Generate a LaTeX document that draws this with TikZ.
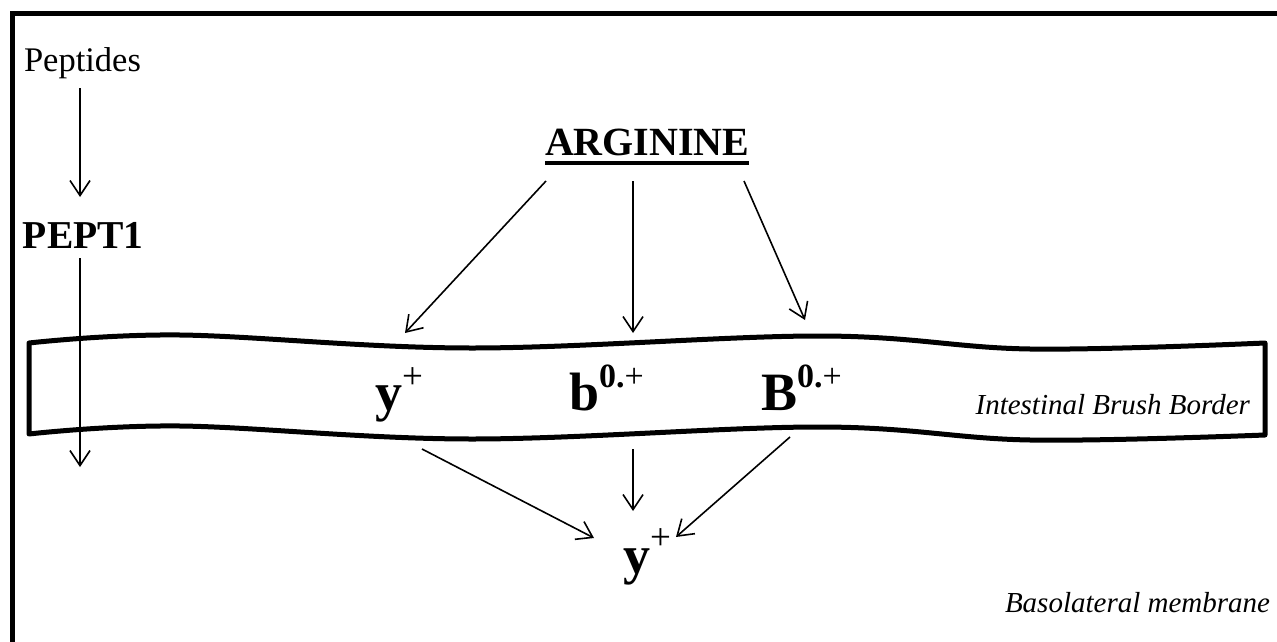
\documentclass[tikz,border=0pt]{standalone}
\usepackage{fontspec}
\setmainfont{Liberation Serif}
\usetikzlibrary{arrows.meta}
\newcommand\fsz[1]{\fontsize{#1}{#1}\selectfont}
\tikzset{
  lbl/.style={inner sep=0pt, outer sep=0pt, anchor=base west},
  lblr/.style={inner sep=0pt, outer sep=0pt, anchor=base east},
  arr/.style={line width=1.6pt, -{Straight Barb[length=15pt,width=20pt,line width=1.6pt]}},
  frame/.style={line width=5pt},
  band/.style={line width=5pt, line join=round},
  ul/.style={line width=4pt}
}
\begin{document}
\begin{tikzpicture}[x=1pt,y=-1pt]
\useasboundingbox (0,0) rectangle (1277,642);
% frame
\draw[frame] (12,642) -- (12,14) -- (1277,14);
% band
\draw[band] (29,343) -- plot[smooth, tension=0.6] coordinates {(29,343) (180,335) (470,348) (820,336) (1030,349) (1265,343)}
  -- (1265,435) -- plot[smooth, tension=0.6] coordinates {(1265,435) (1030,440) (820,427) (470,439) (180,426) (29,434)} -- cycle;
% texts
\node[lbl] (pep) at (24,72) {\fsz{34.5}Peptides};
\node[lbl] (pept) at (23,248) {\fsz{39.5}\bfseries PEPT1};
\node[lbl] (arg) at (545,155) {\fsz{40}\bfseries ARGININE};
\draw[ul] ([yshift=-8pt]arg.base west) -- ([yshift=-8pt]arg.base east);
\node[lbl] (ya) at (375,410) {{\fsz{54}\bfseries y}\raisebox{22pt}{\fsz{37}+}};
\node[lbl] (bb) at (569,410) {{\fsz{54}\bfseries b}\raisebox{23pt}{\fsz{34}\bfseries 0.\mdseries+}};
\node[lbl] (BB) at (761,410) {{\fsz{54}\bfseries B}\raisebox{23pt}{\fsz{34}\bfseries 0.\mdseries+}};
\node[lbl] (yb) at (623,573) {{\fsz{54}\bfseries y}\raisebox{24pt}{\fsz{37}+}};
\node[lblr] (ibb) at (1250,414) {\fsz{29}\itshape Intestinal Brush Border};
\node[lblr] (bm) at (1270,612) {\fsz{29}\itshape Basolateral membrane};
% connector end points
\coordinate (p1) at (80,88);
\coordinate (p2) at (80,197);
\coordinate (q1) at (80,258);
\coordinate (q2) at (80,467);
\coordinate (a1) at (546,181);
\coordinate (a2) at (633,181);
\coordinate (a3) at (744,181);
\coordinate (t1) at (405,333);
\coordinate (t2) at (633,333);
\coordinate (t3) at (805,320);
\coordinate (s1) at (422,449);
\coordinate (s2) at (633,449);
\coordinate (s3) at (790,437);
\coordinate (e1) at (594,538);
\coordinate (e2) at (633,511);
\coordinate (e3) at (676,537);
% arrows
\draw[arr] (p1) -- (p2);
\draw[arr] (q1) -- (q2);
\draw[arr] (a1) -- (t1);
\draw[arr] (a2) -- (t2);
\draw[arr] (a3) -- (t3);
\draw[arr] (s1) -- (e1);
\draw[arr] (s2) -- (e2);
\draw[arr] (s3) -- (e3);
\end{tikzpicture}
\end{document}
